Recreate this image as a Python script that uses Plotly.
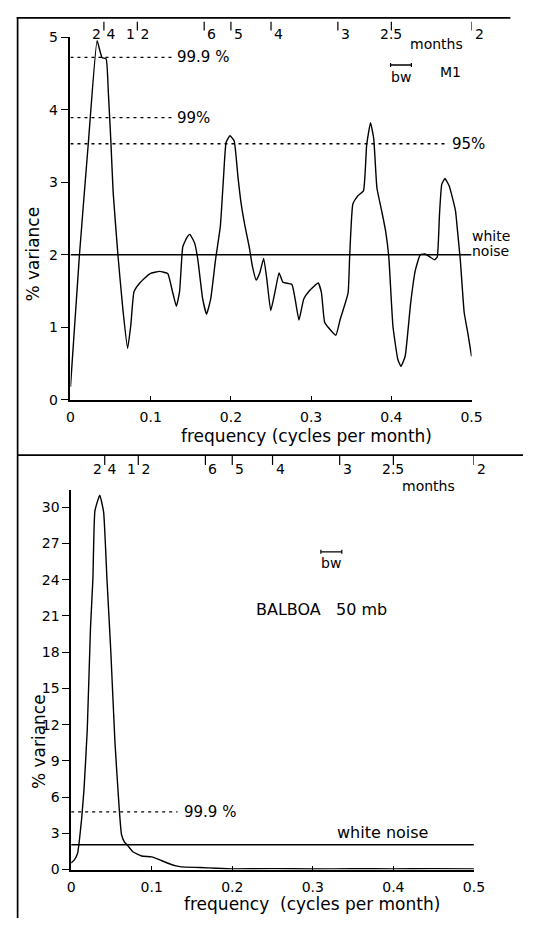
import plotly.graph_objects as go

W, H = 534, 926

# ---------------- data ----------------
# Top panel: M1 spectrum
m1_freq = [0, 0.0112, 0.0224, 0.0332, 0.0392, 0.0444, 0.0472, 0.0504, 0.0532, 0.0592,
           0.0652, 0.0712, 0.0752, 0.0792, 0.0872, 0.0992, 0.1112, 0.1212, 0.1272, 0.132,
           0.136, 0.14, 0.1452, 0.1488, 0.1548, 0.1588, 0.1648, 0.1696, 0.1748, 0.1808,
           0.1868, 0.1908, 0.194, 0.1988, 0.204, 0.2088, 0.2128, 0.2176, 0.2228, 0.2268,
           0.2316, 0.236, 0.2408, 0.2448, 0.2496, 0.2548, 0.26, 0.2648, 0.276, 0.28,
           0.2848, 0.2908, 0.2976, 0.3088, 0.3128, 0.3168, 0.322, 0.3308, 0.336, 0.346,
           0.348, 0.352, 0.358, 0.3652, 0.3692, 0.374, 0.378, 0.382, 0.388, 0.3928,
           0.3968, 0.402, 0.408, 0.412, 0.4172, 0.424, 0.43, 0.436, 0.442, 0.448,
           0.454, 0.4572, 0.46, 0.4628, 0.4668, 0.472, 0.476, 0.48, 0.4828, 0.486,
           0.4908, 0.495, 0.5]
m1_var = [0.18, 2.0, 3.56, 4.95, 4.72, 4.70, 4.24, 3.55, 2.86, 1.99,
          1.26, 0.71, 1.03, 1.49, 1.62, 1.74, 1.77, 1.74, 1.49, 1.29,
          1.49, 2.11, 2.24, 2.28, 2.16, 1.93, 1.39, 1.18, 1.39, 1.93,
          2.39, 3.07, 3.55, 3.64, 3.57, 3.07, 2.70, 2.39, 2.11, 1.84,
          1.65, 1.75, 1.95, 1.66, 1.23, 1.48, 1.75, 1.62, 1.59, 1.39,
          1.10, 1.39, 1.50, 1.61, 1.48, 1.07, 0.99, 0.89, 1.10, 1.47,
          1.97, 2.70, 2.81, 2.88, 3.51, 3.82, 3.60, 2.92, 2.60, 2.33,
          1.97, 1.01, 0.56, 0.46, 0.60, 1.33, 1.79, 2.00, 2.01, 1.97,
          1.93, 1.97, 2.56, 2.97, 3.05, 2.95, 2.79, 2.60, 2.29, 1.92,
          1.20, 0.94, 0.60]

# Bottom panel: Balboa 50 mb spectrum
balboa_freq = [0, 0.004, 0.008, 0.01, 0.013, 0.016, 0.02, 0.024, 0.027, 0.0295,
               0.0355, 0.0403, 0.0444, 0.0492, 0.0544, 0.0597, 0.0625, 0.066, 0.07, 0.077,
               0.0875, 0.1, 0.112, 0.121, 0.13, 0.137, 0.16, 0.18, 0.2, 0.25,
               0.3, 0.35, 0.4, 0.45, 0.5]
balboa_var = [0.55, 0.8, 1.35, 2.3, 4.2, 6.7, 11.6, 20.0, 24.1, 29.7,
              31.0, 29.6, 24.1, 18.1, 10.5, 5.0, 2.9, 2.3, 2.0, 1.45,
              1.12, 1.05, 0.75, 0.5, 0.3, 0.22, 0.17, 0.11, 0.06, 0.08,
              0.05, 0.07, 0.06, 0.08, 0.06]

freq_range = [0, 0.5]
freq_ticks = [0, 0.1, 0.2, 0.3, 0.4, 0.5]
freq_ticktext = ["0", "0.1", "0.2", "0.3", "0.4", "0.5"]

m1_yticks = [0, 1, 2, 3, 4, 5]
m1_yrange = [0, 5]
balboa_yticks = [0, 3, 6, 9, 12, 15, 18, 21, 24, 27, 30]
balboa_yrange = [0, 31.4]

period_months = [24, 12, 6, 5, 4, 3, 2.5, 2]
period_labels = ["2\u2009\u20094", "1\u2009\u20092", "6", "5", "4", "3", "2.5", "2"]
period_anchor = ["center", "center", "left", "left", "left", "left", "center", "left"]

white_noise = 2.0
m1_sig_levels = [4.72, 3.89, 3.53]
m1_sig_labels = ["99.9 %", "99%", "95%"]
m1_sig_end = [0.1275, 0.1275, 0.47]
balboa_white_noise = 2.05
balboa_sig_level = 4.77
balboa_sig_label = "99.9 %"
balboa_sig_end = 0.132
bandwidth = 0.026

FONT = "DejaVu Sans"
BLACK = "black"


def px(x):
    return x / W


def py(y):
    return 1 - y / H


fig = go.Figure()

# curves
fig.add_trace(go.Scatter(x=m1_freq, y=m1_var, mode="lines",
                         line=dict(color=BLACK, width=1.4, shape="spline", smoothing=0.4),
                         xaxis="x", yaxis="y", hoverinfo="skip", showlegend=False))
fig.add_trace(go.Scatter(x=balboa_freq, y=balboa_var, mode="lines",
                         line=dict(color=BLACK, width=1.4, shape="spline", smoothing=0.4),
                         xaxis="x2", yaxis="y2", hoverinfo="skip", showlegend=False))

# white noise lines
for xa, ya, wn in (("x", "y", white_noise), ("x2", "y2", balboa_white_noise)):
    fig.add_trace(go.Scatter(x=freq_range, y=[wn, wn], mode="lines",
                             line=dict(color=BLACK, width=1.6), xaxis=xa, yaxis=ya,
                             hoverinfo="skip", showlegend=False))

# significance lines
for lev, end in zip(m1_sig_levels, m1_sig_end):
    fig.add_trace(go.Scatter(x=[0, end], y=[lev, lev], mode="lines",
                             line=dict(color=BLACK, width=1.3, dash="3px,4px"),
                             xaxis="x", yaxis="y", hoverinfo="skip", showlegend=False))
fig.add_trace(go.Scatter(x=[0, balboa_sig_end], y=[balboa_sig_level] * 2, mode="lines",
                         line=dict(color=BLACK, width=1.3, dash="3px,4px"),
                         xaxis="x2", yaxis="y2", hoverinfo="skip", showlegend=False))

axis_common = dict(showgrid=False, zeroline=False, showline=True, linecolor=BLACK,
                   linewidth=1.6, tickcolor=BLACK,
                   tickfont=dict(family=FONT, size=14, color=BLACK))

fig.update_layout(
    width=W, height=H,
    margin=dict(l=0, r=0, t=0, b=0),
    paper_bgcolor="white", plot_bgcolor="white",
    showlegend=False,
    xaxis=dict(domain=[px(68.4), px(481.1)], range=freq_range, anchor="y",
               tickvals=freq_ticks, ticktext=freq_ticktext, ticks="inside", ticklen=4,
               ticklabelstandoff=4, **axis_common),
    yaxis=dict(domain=[py(398.7), py(29.6)], range=m1_yrange, anchor="x",
               tickvals=m1_yticks, ticks="outside", ticklen=8, **axis_common),
    xaxis2=dict(domain=[px(69.1), px(483.5)], range=freq_range, anchor="y2",
                tickvals=freq_ticks, ticktext=freq_ticktext, ticks="inside", ticklen=4,
                ticklabelstandoff=4, **axis_common),
    yaxis2=dict(domain=[py(876.7), py(490.8)], range=balboa_yrange, anchor="x2",
                tickvals=balboa_yticks, ticks="outside", ticklen=7, **axis_common),
)

shapes = []
ann = []


def text(x, y, s, xref="paper", yref="paper", xanchor="center", yanchor="middle",
         size=14, angle=0, xshift=0, yshift=0, align="center"):
    ann.append(dict(x=x, y=y, text=s, xref=xref, yref=yref, xanchor=xanchor,
                    yanchor=yanchor, showarrow=False, textangle=angle, xshift=xshift,
                    yshift=yshift, align=align,
                    font=dict(family=FONT, size=size, color=BLACK)))


# frame
line_style = dict(color=BLACK, width=1.7)
shapes.append(dict(type="line", xref="paper", yref="paper", x0=px(13), x1=px(521),
                   y0=py(10), y1=py(10), line=line_style))
shapes.append(dict(type="line", xref="paper", yref="paper", x0=px(14), x1=px(14),
                   y0=py(10), y1=py(926), line=line_style))
shapes.append(dict(type="line", xref="paper", yref="paper", x0=px(14), x1=px(534),
                   y0=py(455), y1=py(455), line=line_style))

# period (months) scale
for xr, tick_top, tick_bot, lab_y, months_xy in (
        ("x", 14, 23, 26, (445, 36.5)),
        ("x2", 456, 465, 469, (437, 486))):
    for p, lab, anc in zip(period_months, period_labels, period_anchor):
        f = 1.0 / p
        shapes.append(dict(type="line", xref=xr, yref="paper", x0=f, x1=f,
                           y0=py(tick_top), y1=py(tick_bot),
                           line=dict(color=BLACK, width=1.2)))
        text(f, py(lab_y), lab, xref=xr, xanchor=anc,
             xshift=(1 if anc == "left" else 0), size=14)
    text(px(months_xy[0]), py(months_xy[1]), "months", size=14)

# top panel annotations
for lev, end, lab in zip(m1_sig_levels, m1_sig_end, m1_sig_labels):
    text(end, lev, lab, xref="x", yref="y", xanchor="left", xshift=2, size=15)
text(px(479), py(231.7), "white", xanchor="left", size=14)
text(px(479), py(247), "noise", xanchor="left", size=14)

# bandwidth bars
for xr, cx, bar_y, txt_y in (("x", 0.412, 58, 70), ("x2", 0.323, 553.4, 564.5)):
    x0, x1 = cx - bandwidth / 2, cx + bandwidth / 2
    shapes.append(dict(type="line", xref=xr, yref="paper", x0=x0, x1=x1,
                       y0=py(bar_y), y1=py(bar_y), line=dict(color=BLACK, width=1.3)))
    for xe in (x0, x1):
        shapes.append(dict(type="line", xref=xr, yref="paper", x0=xe, x1=xe,
                           y0=py(bar_y - 2), y1=py(bar_y + 2),
                           line=dict(color=BLACK, width=1.2)))
    text(cx, py(txt_y), "bw", xref=xr, size=14)

text(px(459.5), py(64.7), "M1", size=14)

# bottom panel annotations
text(balboa_sig_end, balboa_sig_level, balboa_sig_label, xref="x2", yref="y2",
     xanchor="left", xshift=5, size=15)
text(0.386, balboa_white_noise, "white noise", xref="x2", yref="y2", yanchor="bottom",
     yshift=1, size=16)
text(px(326.6), py(612), "BALBOA&nbsp;&nbsp;&nbsp;50 mb", size=16)

# axis titles
text(px(311.6), py(436), "frequency (cycles per month)", size=17)
text(px(316.6), py(911.5), "frequency&nbsp;&nbsp;(cycles per month)", size=17)
text(px(30.3), py(250.5), "% variance", angle=-90, size=17)
text(px(36), py(746), "% variance", angle=-90, size=17)

fig.update_layout(shapes=shapes, annotations=ann)
fig.write_html(
    "out.html",
    config={"displayModeBar": False},
    post_script="document.body.style.margin='0';document.documentElement.style.overflow='hidden';",
)
